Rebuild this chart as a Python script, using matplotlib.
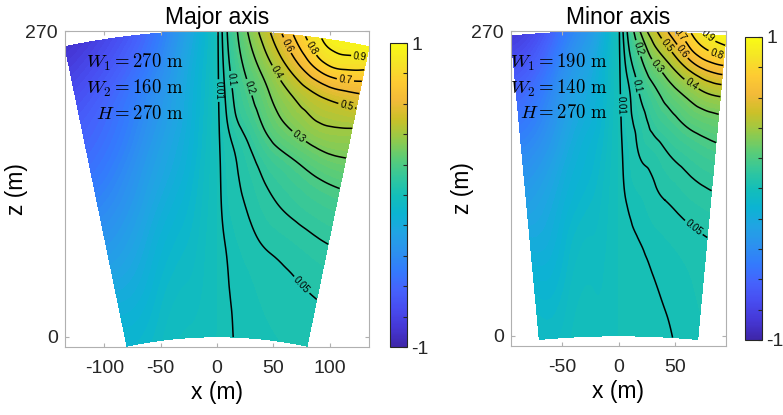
import numpy as np
import matplotlib.pyplot as plt
import matplotlib.tri as mtri
from matplotlib.colors import LinearSegmentedColormap, Normalize
from matplotlib.cm import ScalarMappable

plt.rcParams["font.family"] = ["Liberation Sans", "DejaVu Sans"]
plt.rcParams["mathtext.fontset"] = "cm"
plt.rcParams["axes.unicode_minus"] = False

# sample nodes: u = fraction of the half width (left -1 .. right 1, the field is 0 at u=0),
# v = fraction of the height
u_nodes = [-1, -0.6, -0.3, -0.1, 0.05, 0.1, 0.2, 0.35, 0.5, 0.7, 0.85, 1]
v_nodes = [0, 0.15, 0.3, 0.45, 0.6, 0.7, 0.8, 0.9, 1]

# values (rows = v_nodes, cols = u_nodes)
major_vals = [
    [-0.10, -0.05, -0.02, -0.007, 0.003, 0.006, 0.011, 0.017, 0.021, 0.025, 0.028, 0.030],
    [-0.18, -0.10, -0.045, -0.015, 0.004, 0.008, 0.014, 0.022, 0.030, 0.038, 0.044, 0.049],
    [-0.30, -0.17, -0.08, -0.025, 0.007, 0.013, 0.025, 0.042, 0.055, 0.067, 0.077, 0.085],
    [-0.42, -0.26, -0.13, -0.04, 0.014, 0.026, 0.046, 0.075, 0.10, 0.125, 0.14, 0.15],
    [-0.55, -0.36, -0.19, -0.06, 0.02, 0.037, 0.07, 0.13, 0.18, 0.23, 0.26, 0.27],
    [-0.62, -0.43, -0.23, -0.075, 0.032, 0.065, 0.12, 0.21, 0.29, 0.36, 0.38, 0.37],
    [-0.70, -0.50, -0.27, -0.09, 0.045, 0.09, 0.17, 0.28, 0.38, 0.47, 0.50, 0.51],
    [-0.80, -0.60, -0.33, -0.11, 0.06, 0.12, 0.23, 0.38, 0.53, 0.72, 0.77, 0.74],
    [-0.90, -0.70, -0.40, -0.14, 0.075, 0.15, 0.30, 0.50, 0.70, 0.91, 0.94, 0.97],
]

# values
minor_vals = [
    [-0.05, -0.025, -0.01, -0.004, 0.0005, 0.001, 0.002, 0.004, 0.006, 0.0105, 0.015, 0.020],
    [-0.10, -0.055, -0.025, -0.008, 0.001, 0.002, 0.004, 0.007, 0.0105, 0.016, 0.022, 0.028],
    [-0.18, -0.10, -0.045, -0.015, 0.002, 0.004, 0.008, 0.014, 0.020, 0.029, 0.036, 0.042],
    [-0.28, -0.16, -0.08, -0.025, 0.007, 0.0125, 0.021, 0.035, 0.050, 0.066, 0.077, 0.085],
    [-0.40, -0.24, -0.12, -0.04, 0.012, 0.022, 0.048, 0.07, 0.096, 0.125, 0.145, 0.16],
    [-0.50, -0.31, -0.16, -0.055, 0.018, 0.035, 0.066, 0.12, 0.16, 0.21, 0.235, 0.25],
    [-0.60, -0.38, -0.20, -0.07, 0.025, 0.045, 0.10, 0.18, 0.25, 0.33, 0.38, 0.40],
    [-0.72, -0.48, -0.26, -0.09, 0.04, 0.08, 0.17, 0.31, 0.42, 0.58, 0.66, 0.69],
    [-0.85, -0.60, -0.35, -0.13, 0.06, 0.13, 0.30, 0.49, 0.64, 0.82, 0.92, 0.97],
]

line_levels = [0.01, 0.05, 0.1, 0.2, 0.3, 0.4, 0.5, 0.6, 0.7, 0.8, 0.9]

panels = [
    dict(title="Major axis", W1=270, W2=160, H=270, vals=major_vals,
         xticks=[-100, -50, 0, 50, 100], text_x=-30),
    dict(title="Minor axis", W1=190, W2=140, H=270, vals=minor_vals,
         xticks=[-50, 0, 50], text_x=-9.6),
]

parula = LinearSegmentedColormap.from_list("parula", [
    (0.2422, 0.1504, 0.6603), (0.2704, 0.2138, 0.8346), (0.2813, 0.2985, 0.9397),
    (0.2710, 0.3860, 0.9898), (0.2006, 0.4803, 0.9906), (0.1716, 0.5705, 0.9357),
    (0.1288, 0.6408, 0.8910), (0.0433, 0.7039, 0.8242), (0.0770, 0.7468, 0.7224),
    (0.2061, 0.7808, 0.6065), (0.3671, 0.8021, 0.4563), (0.5886, 0.7913, 0.2833),
    (0.7945, 0.7554, 0.1570), (0.9523, 0.7284, 0.2237), (0.9938, 0.7974, 0.1974),
    (0.9601, 0.8963, 0.1507), (0.9769, 0.9839, 0.0805)], N=256)

fig = plt.figure(figsize=(7.83, 4.15), dpi=100)
ax_pos = [[65/783, 68/415, 304/783, 316/415], [511/783, 69/415, 215/783, 315/415]]
cb_pos = [[390/783, 68/415, 17/783, 304/415], [745/783, 75/415, 17/783, 303/415]]

gray = "#b0b0b0"
dark = "#262626"
for p, pos, cpos in zip(panels, ax_pos, cb_pos):
    ax = fig.add_axes(pos)
    norm = Normalize(-1, 1)
    W1, W2, H = p["W1"], p["W2"], p["H"]
    r0 = H*W2/(W1 - W2)
    th = np.arcsin(W2/2/r0)

    # smooth the field as value/u (log) in (u, v) space, then map onto the fan
    U, V = np.meshgrid(u_nodes, v_nodes)
    nu, nv = len(u_nodes), len(v_nodes)
    tris = []
    for j in range(nv - 1):
        for i in range(nu - 1):
            k = j*nu + i
            tris.append([k, k + 1, k + nu + 1])
            tris.append([k, k + nu + 1, k + nu])
    tri_uv = mtri.Triangulation(U.ravel(), V.ravel(), tris)
    vals = np.array(p["vals"], dtype=float).ravel()
    ls = np.log(vals/U.ravel())
    interp = mtri.CubicTriInterpolator(tri_uv, ls, kind="min_E")
    tri_f, ls_f = mtri.UniformTriRefiner(tri_uv).refine_field(ls, triinterpolator=interp, subdiv=4)
    val_f = tri_f.x*np.exp(ls_f)
    r = r0 + H*tri_f.y
    xf = r*np.sin(tri_f.x*th)
    zf = r*np.cos(tri_f.x*th) - r0
    tri_xz = mtri.Triangulation(xf, zf, tri_f.triangles)

    ax.tricontourf(tri_xz, val_f, levels=np.linspace(-1, 1, 81), cmap=parula, norm=norm)
    cs = ax.tricontour(tri_xz, val_f, levels=line_levels, colors="k", linewidths=1.1)
    ax.clabel(cs, fmt=lambda v: f"{v:g}", fontsize=7, inline=True, inline_spacing=2)

    hw = W1/2
    ax.set_xlim(-hw, hw)
    ax.set_ylim(-9, 270)
    ax.set_xticks(p["xticks"])
    ax.set_yticks([0, 270])
    ax.tick_params(direction="in", length=3, color=gray, labelsize=14,
                   labelcolor=dark, top=True, right=True)
    ax.tick_params(axis="x", pad=9)
    ax.tick_params(axis="y", pad=5)
    for s in ax.spines.values():
        s.set_color(gray)
    ax.set_title(p["title"], fontsize=16.5, pad=5)
    ax.set_xlabel("x (m)", fontsize=16.5, labelpad=3)
    ax.set_ylabel("z (m)", fontsize=16.5, labelpad=-2)

    lines = [rf"$W_1 = {W1}\ \mathrm{{m}}$", rf"$W_2 = {W2}\ \mathrm{{m}}$",
             rf"$H = {H}\ \mathrm{{m}}$"]
    for k, s in enumerate(lines):
        ax.text(p["text_x"], 242 - 22.5*k, s, ha="right", va="center", fontsize=13.5)

    cax = fig.add_axes(cpos)
    cb = fig.colorbar(ScalarMappable(norm=norm, cmap=parula), cax=cax)
    cb.set_ticks(np.round(np.linspace(-1, 1, 11), 1))
    cb.set_ticklabels(["-1"] + [""]*9 + ["1"])
    cax.tick_params(direction="in", length=3, color=dark, labelsize=14,
                    labelcolor=dark, pad=3)
    cb.outline.set_edgecolor(dark)
    cb.outline.set_linewidth(0.8)

fig.savefig("out.png", dpi=100)
